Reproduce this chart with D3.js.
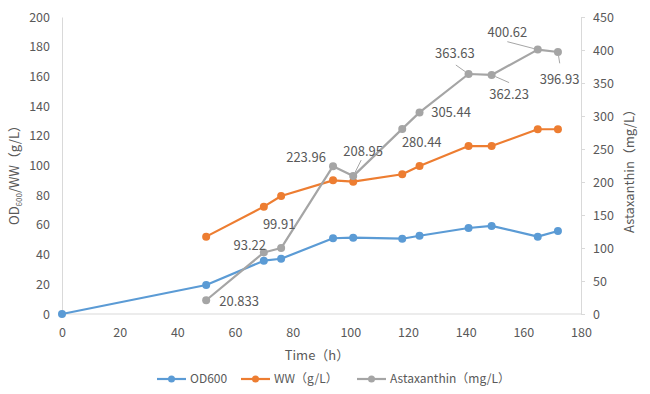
<!DOCTYPE html>
<html><head><meta charset="utf-8">
<script src="https://cdn.jsdelivr.net/npm/d3@7"></script>
<style>body{margin:0;background:#fff}svg{display:block}text{font-family:"Noto Sans CJK SC","Open Sans",sans-serif}</style>
</head><body><svg id="c" width="650" height="394"></svg>
<script>
const xTicks=[0,20,40,60,80,100,120,140,160,180];
const leftTicks=[0,20,40,60,80,100,120,140,160,180,200];
const rightTicks=[0,50,100,150,200,250,300,350,400,450];
const odTime=[0,50,70,76,94,101,118,124,141,149,165,172];
const od600=[0,19.5,35.9,37.2,51,51.4,50.7,52.7,57.9,59.3,52.1,55.9];
const wwTime=[50,70,76,94,101,118,124,141,149,165,172];
const ww=[52.1,72.3,79.5,90,89.1,94.1,99.7,113.1,113.1,124.4,124.4];
const astaTime=[50,70,76,94,101,118,124,141,149,165,172];
const astaxanthin=[20.833,93.22,99.91,223.96,208.95,280.44,305.44,363.63,362.23,400.62,396.93];
const astaLabels=["20.833","93.22","99.91","223.96","208.95","280.44","305.44","363.63","362.23","400.62","396.93"];
// label layout: center offset from point, and optional leader start offset
const labelLayout=[
 {dx:33,dy:1},{dx:-14,dy:-7},{dx:-2,dy:-24,lx:10,ly:-16},{dx:-27,dy:-9},
 {dx:10,dy:-25,lx:8,ly:-16},{dx:19.5,dy:13.7},{dx:31.5,dy:0},
 {dx:-13.6,dy:-20.7,lx:-12.7,ly:-9},{dx:17.5,dy:20,lx:17.5,ly:7.7},
 {dx:-30.4,dy:-17.3,lx:-30.4,ly:-7.9},{dx:1.6,dy:27.3,lx:1.8,ly:11.3}];
const colors={od:"#5B9BD5",ww:"#ED7D31",asta:"#A5A5A5"};

const svg=d3.select("#c");
const x=d3.scaleLinear().domain([0,180]).range([62,581]);
const yL=d3.scaleLinear().domain([0,200]).range([314,17]);
const yR=d3.scaleLinear().domain([0,450]).range([314,17]);
const tickColor="#595959";

// axes
const gx=svg.append("g").attr("transform","translate(0,314)").call(d3.axisBottom(x).tickValues(xTicks).tickSize(0).tickPadding(14));
const gl=svg.append("g").attr("transform","translate(62,0)").call(d3.axisLeft(yL).tickValues(leftTicks).tickSize(0).tickPadding(12));
const gr=svg.append("g").attr("transform","translate(581,0)").call(d3.axisRight(yR).tickValues(rightTicks).tickSize(4).tickPadding(8));
[gx,gl,gr].forEach(g=>{g.selectAll("path").attr("stroke","#d9d9d9").attr("stroke-width",1);
 g.selectAll("line").attr("stroke","#d9d9d9");
 g.selectAll("text").attr("fill",tickColor).attr("font-size",12.5);});
gx.select("path").attr("d","M62,0H581");

// titles
svg.append("text").attr("x",317).attr("y",360).attr("text-anchor","middle").attr("fill",tickColor).attr("font-size",13).text("Time（h）");
const lt=svg.append("text").attr("transform","translate(19,172) rotate(-90)").attr("text-anchor","middle").attr("fill",tickColor).attr("font-size",13);
lt.append("tspan").text("OD");lt.append("tspan").attr("font-size",8).attr("dy",3).text("600");
lt.append("tspan").attr("dy",-3).text("/WW（g/L）");
svg.append("text").attr("transform","translate(634,168) rotate(-90)").attr("text-anchor","middle").attr("fill",tickColor).attr("font-size",13).text("Astaxanthin（mg/L）");

function series(tArr,vArr,y,color){
 const pts=tArr.map((t,i)=>[x(t),y(vArr[i])]);
 svg.append("path").attr("d",d3.line()(pts)).attr("fill","none").attr("stroke",color).attr("stroke-width",2.2).attr("stroke-linejoin","round");
 svg.append("g").selectAll("circle").data(pts).join("circle").attr("cx",d=>d[0]).attr("cy",d=>d[1]).attr("r",4).attr("fill",color);
 return pts;
}
series(odTime,od600,yL,colors.od);
series(wwTime,ww,yL,colors.ww);
const ap=series(astaTime,astaxanthin,yR,colors.asta);

// data labels
ap.forEach((p,i)=>{
 const L=labelLayout[i];
 if(L.lx!==undefined){
  const sx=p[0]+L.lx,sy=p[1]+L.ly;const len=Math.hypot(L.lx,L.ly);
  const ex=p[0]+L.lx/len*4,ey=p[1]+L.ly/len*4;
  svg.append("line").attr("x1",sx).attr("y1",sy).attr("x2",ex).attr("y2",ey).attr("stroke","#a6a6a6").attr("stroke-width",1);
 }
 svg.append("text").attr("x",p[0]+L.dx).attr("y",p[1]+L.dy).attr("dy","0.35em").attr("text-anchor","middle")
  .attr("fill","#595959").attr("font-size",13).text(astaLabels[i]);
});

// legend
const legend=[{n:"OD600",c:colors.od,x:157},{n:"WW（g/L）",c:colors.ww,x:241},{n:"Astaxanthin（mg/L）",c:colors.asta,x:357}];
const lg=svg.append("g");
legend.forEach(d=>{
 lg.append("line").attr("x1",d.x).attr("x2",d.x+29).attr("y1",379).attr("y2",379).attr("stroke",d.c).attr("stroke-width",2.2);
 lg.append("circle").attr("cx",d.x+14.5).attr("cy",379).attr("r",3.5).attr("fill",d.c);
 lg.append("text").attr("x",d.x+33).attr("y",379).attr("dy","0.35em").attr("fill",tickColor).attr("font-size",12).text(d.n);
});
</script></body></html>
